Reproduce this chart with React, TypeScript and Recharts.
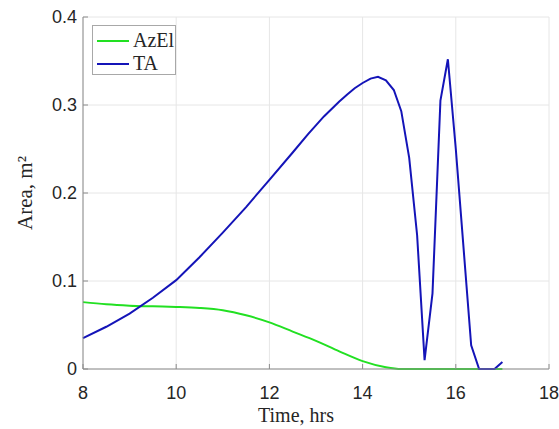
import React from 'react';
import { LineChart, Line, XAxis, YAxis, CartesianGrid, Legend } from 'recharts';

const taHours = [8, 8.5, 9, 9.5, 10, 10.5, 11, 11.5, 12, 12.5, 12.83, 13.17, 13.5, 13.67, 13.83, 14, 14.17, 14.33, 14.5, 14.67, 14.83, 15, 15.17, 15.33, 15.5, 15.67, 15.83, 16, 16.17, 16.33, 16.5, 16.67, 16.83, 17];
const taArea = [0.035, 0.048, 0.063, 0.081, 0.101, 0.127, 0.155, 0.184, 0.215, 0.246, 0.267, 0.287, 0.304, 0.312, 0.319, 0.325, 0.330, 0.332, 0.328, 0.317, 0.293, 0.240, 0.152, 0.010, 0.086, 0.305, 0.352, 0.250, 0.135, 0.027, 0, 0, 0, 0.008];

const azelHours = [8, 8.5, 9, 9.5, 10, 10.5, 11, 11.5, 12, 12.5, 13, 13.5, 14, 14.5, 14.83, 15.5, 16, 16.5, 17];
const azelArea = [0.076, 0.0735, 0.072, 0.0712, 0.0705, 0.0693, 0.0667, 0.061, 0.053, 0.0425, 0.032, 0.020, 0.009, 0.002, 0, 0, 0, 0, 0];

const xTicks = [8, 10, 12, 14, 16, 18];
const yTicks = [0, 0.1, 0.2, 0.3, 0.4];

const taData = taHours.map((t, i) => ({ t, area: taArea[i] }));
const azelData = azelHours.map((t, i) => ({ t, area: azelArea[i] }));

const GREEN = '#22e022';
const BLUE = '#1414b8';
const AXIS = '#8c8c8c';
const TICK_FONT = '"Liberation Sans", Arial, sans-serif';
const SERIF = '"Liberation Serif", "Times New Roman", serif';

const BottomTick = (props: any) => {
  const { x, y, payload } = props;
  return (
    <g>
      <line x1={x} x2={x} y1={y} y2={y - 5} stroke={AXIS} />
      <text x={x} y={y + 30} textAnchor="middle" fontSize={18} fontFamily={TICK_FONT} fill="#262626">
        {payload.value}
      </text>
    </g>
  );
};

const LeftTick = (props: any) => {
  const { x, y, payload } = props;
  return (
    <g>
      <line x1={x} x2={x + 5} y1={y} y2={y} stroke={AXIS} />
      <text x={x - 6} y={y} dy="0.36em" textAnchor="end" fontSize={18} fontFamily={TICK_FONT} fill="#262626">
        {payload.value}
      </text>
    </g>
  );
};

const TopTick = (props: any) => {
  const { x, y } = props;
  return <line x1={x} x2={x} y1={y} y2={y + 5} stroke={AXIS} />;
};

const RightTick = (props: any) => {
  const { x, y } = props;
  return <line x1={x} x2={x - 5} y1={y} y2={y} stroke={AXIS} />;
};

const LegendBox = () => (
  <div
    style={{
      border: '1px solid #a8a8a8',
      background: '#fff',
      width: 84,
      height: 50,
      boxSizing: 'border-box',
      padding: '3px 0 0 4px',
      fontFamily: SERIF,
      fontSize: 20,
      color: '#262626',
      lineHeight: '23px',
    }}
  >
    {[
      { name: 'AzEl', color: GREEN },
      { name: 'TA', color: BLUE },
    ].map((item) => (
      <div key={item.name} style={{ display: 'flex', alignItems: 'center' }}>
        <span style={{ display: 'inline-block', width: 32, height: 2, background: item.color, marginRight: 4 }} />
        <span>{item.name}</span>
      </div>
    ))}
  </div>
);

export default function App() {
  return (
    <div style={{ position: 'absolute', left: 0, top: 0, width: 559, height: 429, background: '#fff' }}>
      <LineChart width={559} height={429} margin={{ top: 17, right: 10, bottom: 0, left: 0 }}>
        <CartesianGrid stroke="#e6e6e6" />
        <XAxis
          dataKey="t"
          type="number"
          domain={[8, 18]}
          ticks={xTicks}
          height={60}
          tickSize={0}
          tickMargin={0}
          stroke={AXIS}
          tick={BottomTick}
          label={{ value: 'Time, hrs', position: 'insideBottom', offset: 7, dx: -20, fontSize: 20, fontFamily: SERIF, fill: '#262626' }}
        />
        <XAxis xAxisId="top" orientation="top" dataKey="t" type="number" domain={[8, 18]} ticks={xTicks} height={0} tickSize={0} tickMargin={0} stroke={AXIS} tick={TopTick} />
        <YAxis
          type="number"
          domain={[0, 0.4]}
          ticks={yTicks}
          width={83}
          tickSize={0}
          tickMargin={0}
          stroke={AXIS}
          tick={LeftTick}
          label={{ value: 'Area, m²', angle: -90, position: 'center', dx: -17, fontSize: 21, fontFamily: SERIF, fill: '#262626' }}
        />
        <YAxis yAxisId="right" orientation="right" type="number" domain={[0, 0.4]} ticks={yTicks} width={0} tickSize={0} tickMargin={0} stroke={AXIS} tick={RightTick} />
        <Legend
          layout="horizontal"
          verticalAlign="middle"
          align="center"
          content={LegendBox}
          wrapperStyle={{ position: 'absolute', top: 25, left: 92, width: 'auto', height: 'auto' }}
        />
        <Line data={azelData} dataKey="area" name="AzEl" type="monotone" stroke={GREEN} strokeWidth={2} dot={false} isAnimationActive={false} />
        <Line data={taData} dataKey="area" name="TA" type="linear" stroke={BLUE} strokeWidth={2} dot={false} isAnimationActive={false} />
      </LineChart>
    </div>
  );
}
